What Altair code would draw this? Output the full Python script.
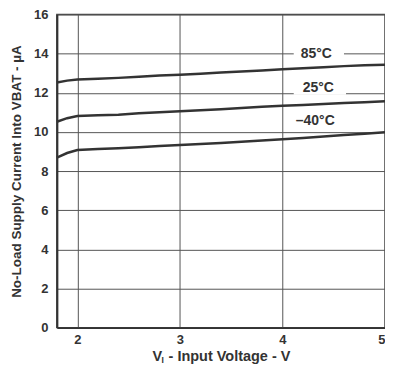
import altair as alt
import pandas as pd

# ---- data ----
voltage = [1.8, 1.9, 2.0, 2.2, 2.4, 2.6, 2.8, 3.0, 3.2, 3.4, 3.6, 3.8, 4.0, 4.2, 4.4, 4.6, 4.8, 5.0]
i_85 = [12.52, 12.62, 12.68, 12.72, 12.76, 12.82, 12.88, 12.92, 12.97, 13.03, 13.08, 13.14, 13.20, 13.25, 13.30, 13.36, 13.40, 13.43]
i_25 = [10.52, 10.70, 10.81, 10.85, 10.88, 10.95, 11.00, 11.05, 11.10, 11.16, 11.22, 11.28, 11.34, 11.38, 11.43, 11.48, 11.52, 11.57]
i_m40 = [8.69, 8.92, 9.07, 9.12, 9.17, 9.22, 9.28, 9.33, 9.38, 9.43, 9.50, 9.56, 9.62, 9.69, 9.76, 9.84, 9.91, 9.98]
series_names = ["85°C", "25°C", "–40°C"]

label_v = [4.33, 4.35, 4.32]
label_i = [14.0, 12.23, 10.57]
box_v0 = [4.11, 4.11]
box_v1 = [4.60, 4.62]
box_i0 = [13.68, 11.90]
box_i1 = [14.32, 12.54]

x_ticks = [2, 3, 4, 5]
y_ticks = [0, 2, 4, 6, 8, 10, 12, 14, 16]

rows = []
for name, vals in zip(series_names, [i_85, i_25, i_m40]):
    for v, c in zip(voltage, vals):
        rows.append({"V": v, "I": c, "series": name})
df = pd.DataFrame(rows)
labels = pd.DataFrame({"V": label_v, "I": label_i, "text": series_names})
boxes = pd.DataFrame({"V0": box_v0, "V1": box_v1, "I0": box_i0, "I1": box_i1})

FONT = "Liberation Sans"
INK = "#333333"
W, H = 329, 314

xscale = alt.Scale(domain=[1.8, 5], nice=False, zero=False)
yscale = alt.Scale(domain=[0, 16], nice=False)

xaxis = alt.Axis(values=x_ticks, title=None, grid=True, tickSize=0, labelPadding=6,
                 format="d")
yaxis = alt.Axis(values=y_ticks, title="No-Load Supply Current Into VBAT - µA", grid=True,
                 tickSize=0, labelPadding=9, titlePadding=10, labelOverlap=False)

lines = alt.Chart(df).mark_line(color=INK, strokeWidth=2.5).encode(
    x=alt.X("V:Q", scale=xscale, axis=xaxis),
    y=alt.Y("I:Q", scale=yscale, axis=yaxis),
    detail="series:N",
)

rects = alt.Chart(boxes).mark_rect(color="white").encode(
    x=alt.X("V0:Q", scale=xscale, axis=xaxis),
    x2="V1:Q",
    y=alt.Y("I0:Q", scale=yscale, axis=yaxis),
    y2="I1:Q",
)

texts = alt.Chart(labels).mark_text(font=FONT, fontWeight="bold", fontSize=14,
                                    color=INK).encode(
    x=alt.X("V:Q", scale=xscale, axis=xaxis),
    y=alt.Y("I:Q", scale=yscale, axis=yaxis),
    text="text:N",
)

one = alt.Data(values=[{"a": 1}])
t_v = alt.Chart(one).mark_text(font=FONT, fontWeight="bold", fontSize=14.5, align="left",
                               baseline="middle", color=INK).encode(
    x=alt.value(96), y=alt.value(H + 29), text=alt.value("V"))
t_sub = alt.Chart(one).mark_text(font=FONT, fontWeight="bold", fontSize=8.5, align="left",
                                 baseline="middle", color=INK).encode(
    x=alt.value(105), y=alt.value(H + 32), text=alt.value("I"))
t_rest = alt.Chart(one).mark_text(font=FONT, fontWeight="bold", fontSize=14.5, align="left",
                                  baseline="middle", color=INK).encode(
    x=alt.value(112), y=alt.value(H + 29), text=alt.value("- Input Voltage - V"))

chart = alt.layer(lines, rects, texts, t_v, t_sub, t_rest).properties(
    width=W, height=H,
    autosize=alt.AutoSizeParams(type="none"),
    padding={"left": 49, "top": 6, "right": 0, "bottom": 37},
).configure_view(
    stroke="#444444", strokeWidth=1.5
).configure_axis(
    labelFont=FONT, labelFontWeight="bold", labelFontSize=13, labelColor=INK,
    titleFont=FONT, titleFontWeight="bold", titleFontSize=13.5, titleColor=INK,
    gridColor="#555555", gridWidth=1, gridOpacity=1,
    domainColor=INK, domainWidth=2,
)

chart.save("out.html", embed_options={"renderer": "svg", "actions": False})
